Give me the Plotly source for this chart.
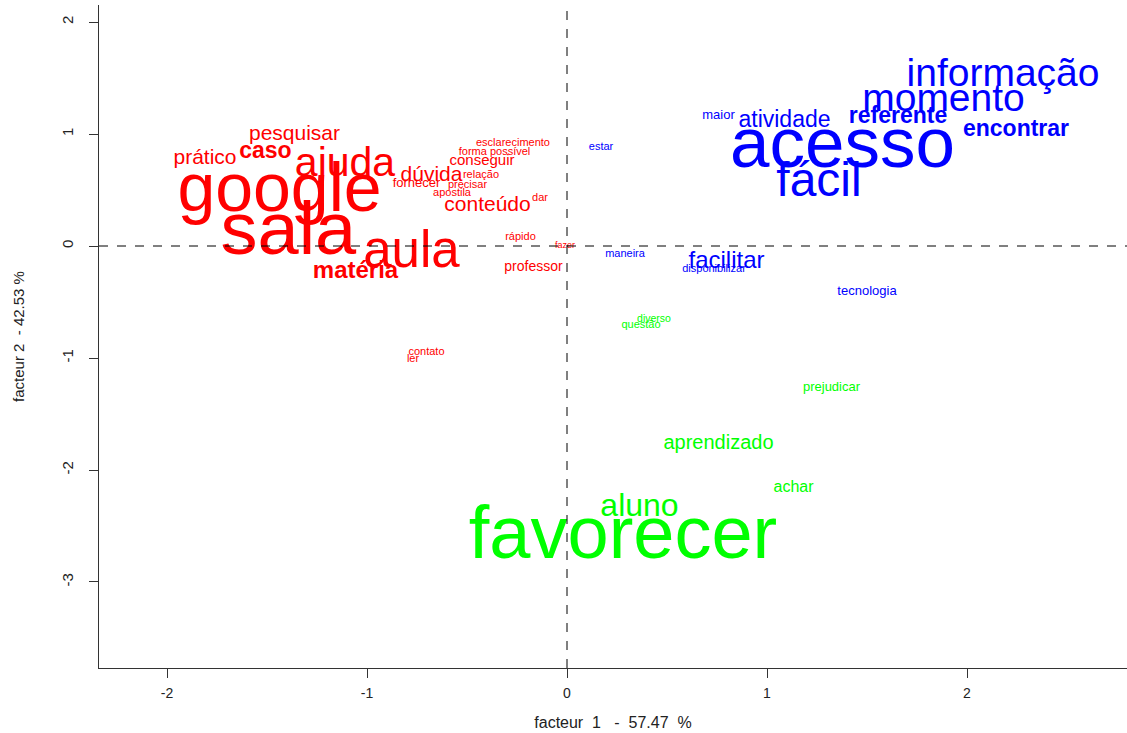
import plotly.graph_objects as go

# ---- data: red group ----
red_words = ["sala", "google", "aula", "ajuda", "caso", "pesquisar", "prático", "matéria",
             "dúvida", "conteúdo", "conseguir", "esclarecimento", "forma possível", "relação",
             "fornecer", "precisar", "apostila", "dar", "rápido", "fazer", "professor",
             "contato", "ler"]
red_x = [-1.393, -1.4375, -0.778, -1.11, -1.508, -1.3625, -1.81, -1.0575,
         -0.6775, -0.3975, -0.425, -0.27, -0.3625, -0.43,
         -0.7525, -0.4975, -0.575, -0.135, -0.2325, -0.01, -0.1675,
         -0.7025, -0.77]
red_y = [0.098, 0.464, -0.072, 0.714, 0.839, 0.991, 0.777, -0.232,
         0.625, 0.357, 0.758, 0.915, 0.834, 0.629,
         0.556, 0.54, 0.468, 0.425, 0.075, 0.004, -0.196,
         -0.951, -1.014]
red_size = [74, 68, 51, 41, 23, 21, 21, 24,
            21, 21, 15, 11, 11, 11,
            13, 11, 11, 11, 11, 9, 14,
            11, 11]
red_bold = [0, 0, 0, 0, 1, 0, 0, 1,
            0, 0, 0, 0, 0, 0,
            0, 0, 0, 0, 0, 0, 0,
            0, 0]

# ---- data: blue group ----
blue_words = ["informação", "momento", "referente", "atividade", "maior", "acesso",
              "encontrar", "fácil", "estar", "maneira", "facilitar", "disponibilizar",
              "tecnologia"]
blue_x = [2.18, 1.8825, 1.655, 1.0875, 0.7575, 1.3775,
          2.245, 1.26, 0.17, 0.29, 0.7975, 0.735,
          1.5]
blue_y = [1.518, 1.294, 1.146, 1.116, 1.165, 0.862,
          1.036, 0.553, 0.879, -0.076, -0.143, -0.21,
          -0.41]
blue_size = [39, 39, 23, 23, 13, 71,
             23, 48, 11, 11, 24, 11,
             13]
blue_bold = [0, 0, 1, 0, 0, 0,
             1, 0, 0, 0, 0, 0,
             0]

# ---- data: green group ----
green_words = ["diverso", "questão", "prejudicar", "aprendizado", "achar", "aluno", "favorecer"]
green_x = [0.435, 0.37, 1.3225, 0.7575, 1.1325, 0.3625, 0.28]
green_y = [-0.657, -0.71, -1.265, -1.768, -2.161, -2.339, -2.625]
green_size = [10.5, 11, 13, 20, 16, 32, 74]
green_bold = [0, 0, 0, 0, 0, 0, 0]

x_ticks = [-2, -1, 0, 1, 2]
y_ticks = [-3, -2, -1, 0, 1, 2]
x_title = "facteur  1   -  57.47  %"
y_title = "facteur 2  - 42.53 %"

fig = go.Figure()

def add_group(words, xs, ys, sizes, bold, color):
    labels = [f"<b>{w}</b>" if b else w for w, b in zip(words, bold)]
    fig.add_trace(go.Scatter(
        x=xs, y=ys, mode="text", text=labels, textposition="middle center",
        textfont=dict(size=sizes, color=color, family="Liberation Sans, Arial, sans-serif"),
        hoverinfo="skip", showlegend=False, cliponaxis=False))

add_group(red_words, red_x, red_y, red_size, red_bold, "#FF0000")
add_group(blue_words, blue_x, blue_y, blue_size, blue_bold, "#0000FF")
add_group(green_words, green_x, green_y, green_size, green_bold, "#00FF00")

fig.add_hline(y=0, line=dict(color="black", width=1, dash="dash"))
fig.add_vline(x=0, line=dict(color="black", width=1, dash="dash"))

x_font = dict(family="Liberation Sans, Arial", size=14, color="#222")
y_font = dict(family="Liberation Sans Narrow, Arial Narrow, Liberation Sans", size=15,
              color="#222")
fig.update_xaxes(range=[-2.34, 2.8], tickvals=x_ticks, ticktext=[str(v) for v in x_ticks],
                 showgrid=False, zeroline=False, showline=True, linecolor="#333", linewidth=1,
                 ticks="outside", ticklen=9, tickcolor="#333", tickfont=x_font,
                 ticklabelstandoff=3,
                 title=dict(text=x_title, font=dict(x_font, size=16), standoff=17))
fig.update_yaxes(range=[-3.768, 2.152], tickvals=y_ticks, ticktext=[str(v) for v in y_ticks],
                 showgrid=False, zeroline=False, showline=True, linecolor="#333", linewidth=1,
                 ticks="outside", ticklen=9, tickcolor="#333", tickfont=y_font, tickangle=-90,
                 ticklabelstandoff=10,
                 title=dict(text=y_title, font=y_font, standoff=30))

fig.update_layout(width=1127, height=733, margin=dict(l=99, r=0, t=5, b=65),
                  plot_bgcolor="white", paper_bgcolor="white")

fig.write_html("out.html")
